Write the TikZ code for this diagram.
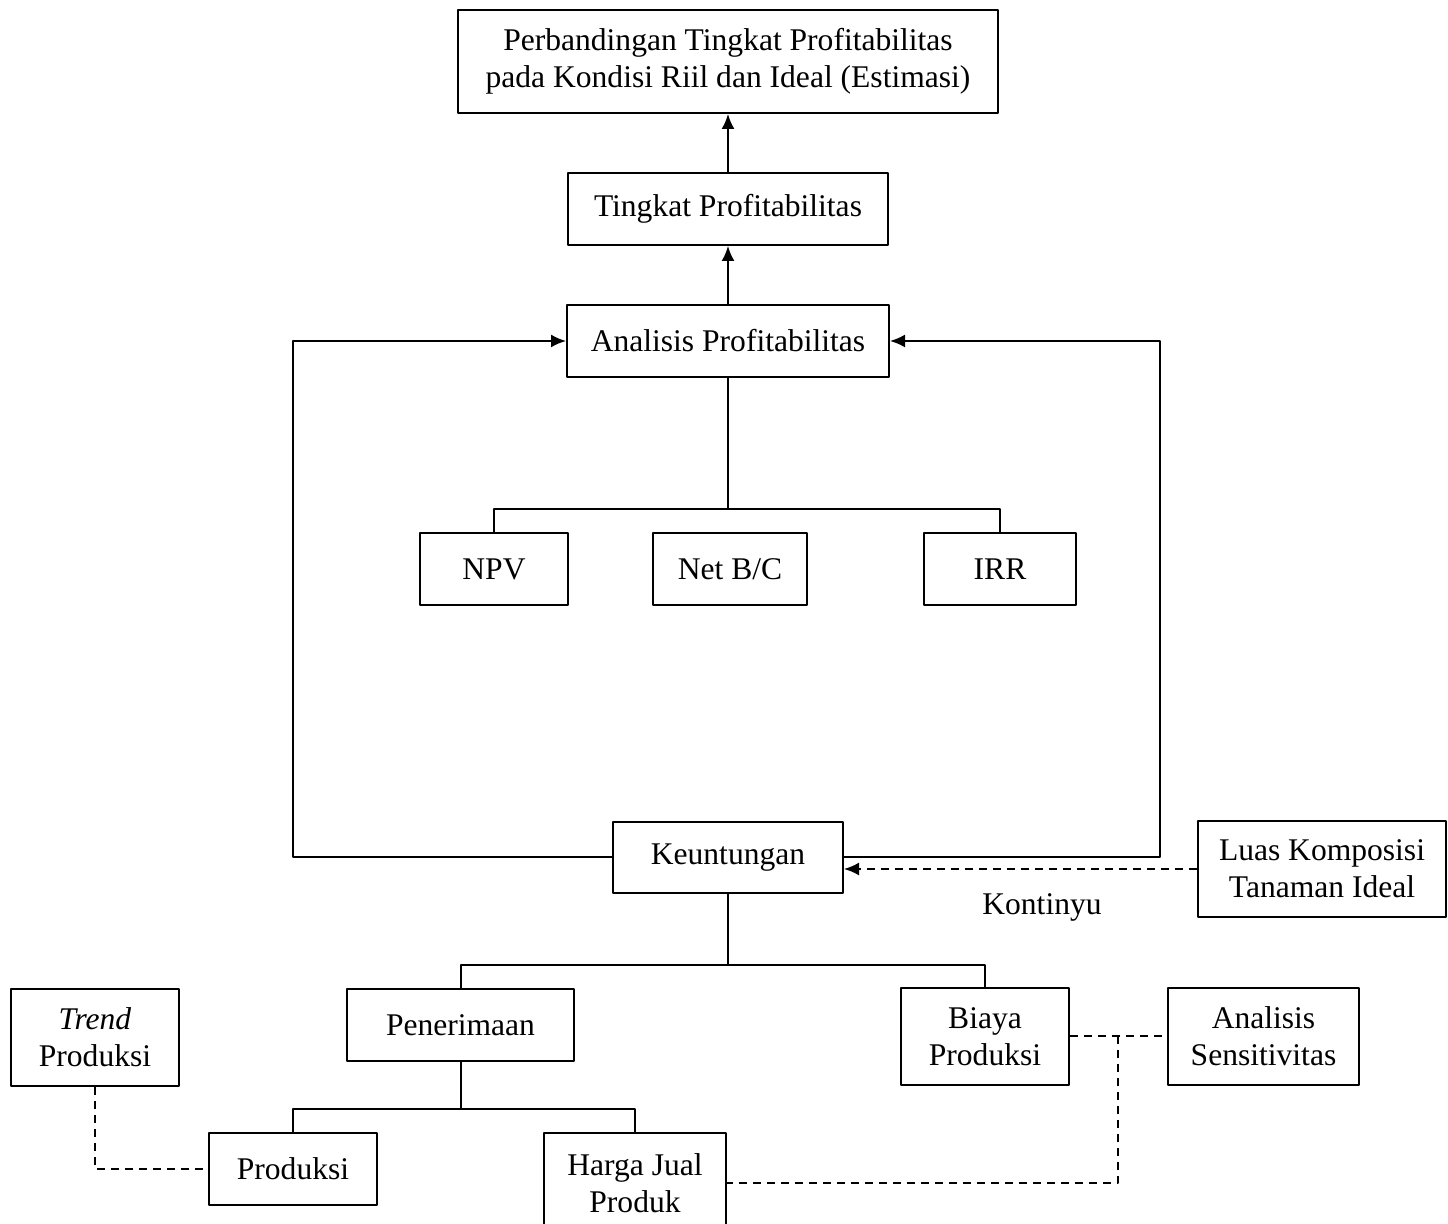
\documentclass[tikz,border=0pt]{standalone}
\usepackage{fontspec}
\setmainfont{Liberation Serif}
\usetikzlibrary{arrows.meta}
\begin{document}
\begin{tikzpicture}[>={Latex[length=7.5bp,width=6.5bp]},line join=bevel,line width=1bp,
    font=\fontsize{15.84}{18.5}\selectfont,
    every node/.style={inner sep=0pt,align=center},
    box/.style={draw=black,rectangle},
    putus/.style={dash pattern=on 4bp off 3bp}]
    %%
    \useasboundingbox (0bp,0bp) rectangle (724bp,612bp);
    \node (Perbandingan) at (364bp,581.25bp) [box,minimum width=270bp,minimum height=51.5bp] {Perbandingan Tingkat Profitabilitas\\pada Kondisi Riil dan Ideal (Estimasi)};
    \node (Tingkat) at (364bp,507.5bp) [box,minimum width=160bp,minimum height=36bp] {Tingkat Profitabilitas};
    \node (Analisis) at (364bp,441.5bp) [box,minimum width=161bp,minimum height=36bp] {Analisis Profitabilitas};
    \node (NPV) at (247bp,327.5bp) [box,minimum width=74bp,minimum height=36bp] {NPV};
    \node (NetBC) at (365bp,327.5bp) [box,minimum width=77bp,minimum height=36bp] {Net B/C};
    \node (IRR) at (500bp,327.5bp) [box,minimum width=76bp,minimum height=36bp] {IRR};
    \node (Keuntungan) at (364bp,183.25bp) [box,minimum width=115bp,minimum height=35.5bp] {Keuntungan};
    \node (Luas) at (661bp,177.5bp) [box,minimum width=124bp,minimum height=48bp] {Luas Komposisi\\Tanaman Ideal};
    \node (Kontinyu) at (521bp,158.5bp) [] {Kontinyu};
    \node (Penerimaan) at (230.25bp,99.5bp) [box,minimum width=113.5bp,minimum height=36bp] {Penerimaan};
    \node (Biaya) at (492.5bp,93.75bp) [box,minimum width=84bp,minimum height=48.5bp] {Biaya\\Produksi};
    \node (Sensitivitas) at (631.75bp,93.75bp) [box,minimum width=95.5bp,minimum height=48.5bp] {Analisis\\Sensitivitas};
    \node (Trend) at (47.5bp,93.25bp) [box,minimum width=84bp,minimum height=48.5bp] {\textit{Trend}\\Produksi};
    \node (Produksi) at (146.5bp,27.5bp) [box,minimum width=84bp,minimum height=36bp] {Produksi};
    \node (Harga) at (317.5bp,20.5bp) [box,minimum width=91bp,minimum height=50bp] {Harga Jual\\Produk};
    %
    \draw [->] (Tingkat) -- (Perbandingan);
    \draw [->] (Analisis) -- (Tingkat);
    \draw [] (Analisis.south) -- (364bp,357.5bp) -| (NPV.north);
    \draw [] (364bp,357.5bp) -| (IRR.north);
    \draw [->] (Keuntungan.west) -- (146.5bp,183.25bp) |- (Analisis.west);
    \draw [->] (Keuntungan.east) -- (580bp,183.25bp) |- (Analisis.east);
    \draw [->,putus] (Luas.west) -- (Keuntungan.east |- Luas.west);
    \draw [] (Keuntungan.south) -- (364bp,129.5bp) -| (Penerimaan.north);
    \draw [] (364bp,129.5bp) -| (Biaya.north);
    \draw [] (Penerimaan.south) -- (230.25bp,57.5bp) -| (Produksi.north);
    \draw [] (230.25bp,57.5bp) -| (Harga.north);
    \draw [putus] (Biaya.east) -- (Sensitivitas.west);
    \draw [putus] (559bp,93.75bp) |- (Harga.east);
    \draw [putus] (Trend.south) |- (Produksi.west);
    %
\end{tikzpicture}
\end{document}
